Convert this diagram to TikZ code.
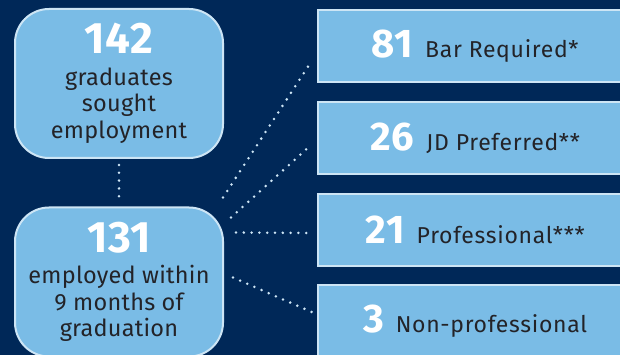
\documentclass[tikz,border=0pt]{standalone}
\usepackage{fontspec}
\setmainfont{Fira Sans}
\usetikzlibrary{calc}
\definecolor{navybg}{RGB}{0,40,88}
\definecolor{boxfill}{RGB}{122,188,230}
\definecolor{boxedge}{RGB}{205,229,245}
\definecolor{labeltext}{RGB}{35,35,40}
\newcommand{\bignum}[1]{{\fontsize{44}{44}\selectfont\bfseries\color{white}#1}}
\newcommand{\catnum}[1]{{\fontsize{40}{40}\selectfont\bfseries\color{white}#1}}

\begin{document}
\begin{tikzpicture}[x=1pt,y=-1pt,
  bigbox/.style={draw=boxedge,line width=2pt,fill=boxfill,rounded corners=34pt,
    minimum width=208pt,minimum height=149pt,align=center,text=labeltext,
    font=\fontsize{23.5}{26.5}\selectfont\addfontfeatures{LetterSpace=1}},
  catbox/.style={draw=boxedge,line width=2pt,fill=boxfill,
    minimum width=314pt,minimum height=72pt,text=labeltext,
    font=\fontsize{23}{26}\selectfont\addfontfeatures{LetterSpace=3}},
  dotline/.style={boxedge,line width=2.8pt,line cap=round,dash pattern=on 0pt off 7.8pt}]
\useasboundingbox (0,0) rectangle (620,355);
\clip (0,0) rectangle (620,355);
\fill[navybg] (0,0) rectangle (620,355);

% Totals - left column
\node[bigbox] (grad) at (119,83.5) {\bignum{142}\\[5pt]graduates\\sought\\employment};
\node[bigbox] (emp) at (119,282) {\bignum{131}\\[5pt]employed within\\9 months of\\graduation};

% Job categories - right column
\node[catbox] (bar) at (475,46) {\catnum{81}\hspace{12pt}Bar Required*};
\node[catbox] (jd) at (475,138) {\catnum{26}\hspace{12pt}JD Preferred**};
\node[catbox] (prof) at (475,230) {\catnum{21}\hspace{12pt}Professional***};
\node[catbox] (nonprof) at (475,321) {\catnum{3}\hspace{12pt}Non-professional};

% Dotted links
\draw[dotline,shorten <=6pt,shorten >=5pt] (grad.south) -- (emp.north);
\draw[dotline] ($(emp.north east)+(-1,-9)$) -- ($(bar.west)+(-6,16)$);
\draw[dotline] ($(emp.north east)+(7,11)$) -- ($(jd.west)+(-6,7)$);
\draw[dotline] ($(emp.north east)+(12,26)$) -- ($(prof.west)+(-6,3)$);
\draw[dotline] ($(emp.north east)+(9,71)$) -- ($(nonprof.west)+(-3,-8)$);
\end{tikzpicture}
\end{document}
